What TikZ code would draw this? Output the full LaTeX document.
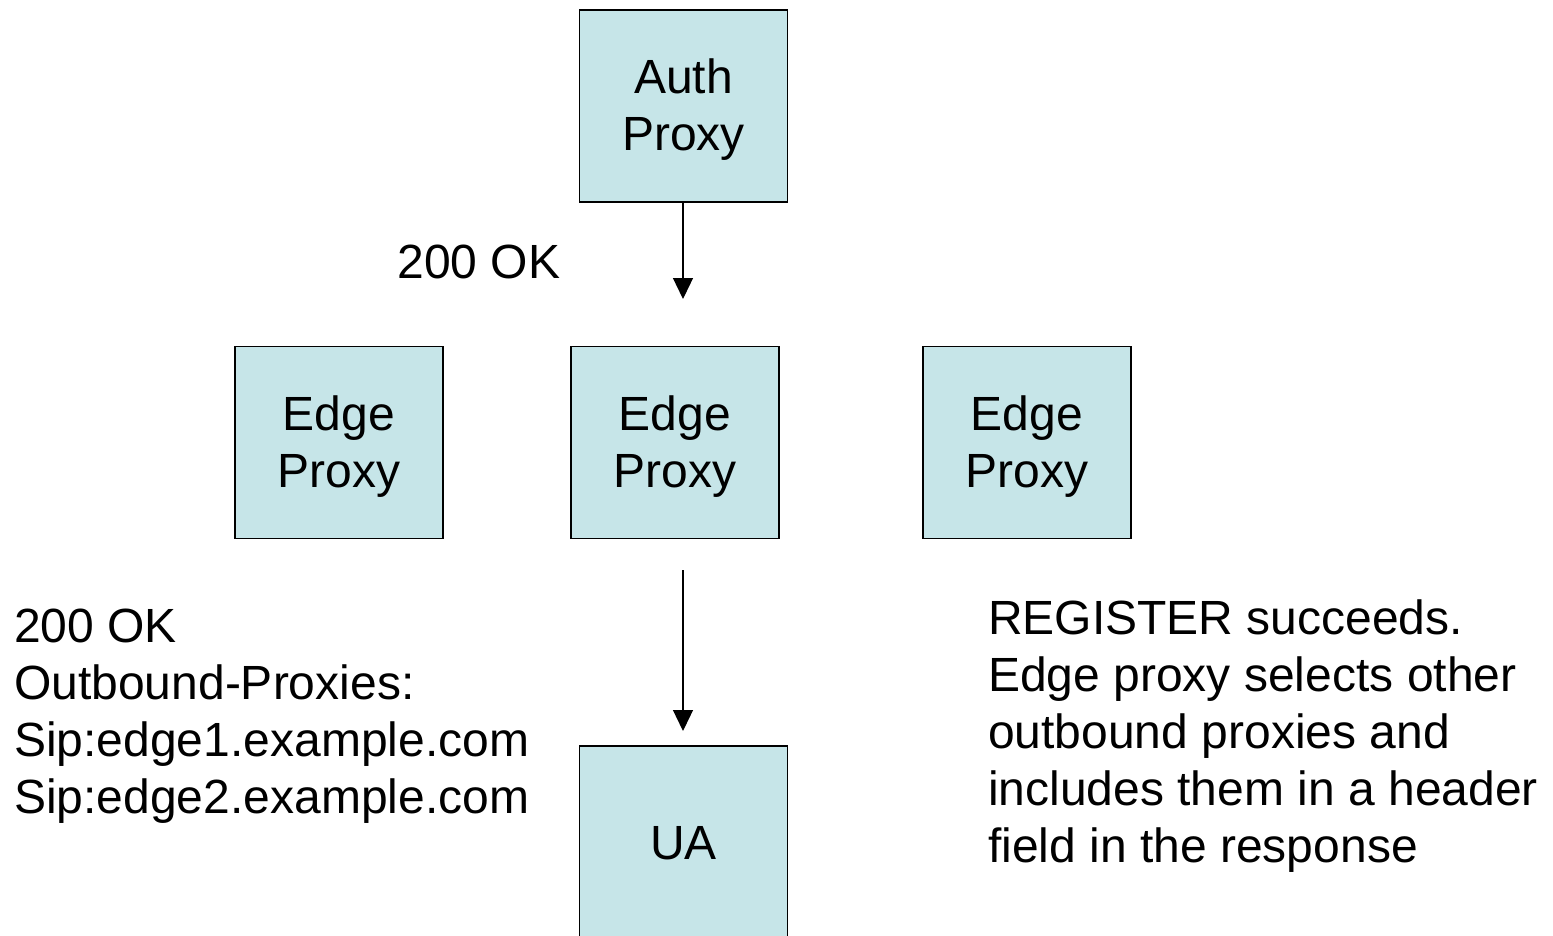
\documentclass[tikz,border=0pt]{standalone}
\usepackage{fontspec}
\setmainfont{Liberation Sans}
\usetikzlibrary{arrows.meta}
\definecolor{boxfill}{RGB}{198,229,232}
\tikzset{
  box/.style={draw=black, line width=1.3pt, fill=boxfill, minimum width=208pt, minimum height=192pt, inner sep=0pt},
  boxtext/.style={inner sep=0pt, align=center, yshift=-4pt, font=\fontsize{48}{57}\selectfont},
  lbl/.style={inner sep=0pt, align=left, font=\fontsize{48}{57}\selectfont},
  conn/.style={line width=1.3pt, -{Triangle[width=20pt,length=21pt]}}
}
\begin{document}
\begin{tikzpicture}[x=1pt,y=-1pt]
\useasboundingbox (0,0) rectangle (1553,936);
\node[box, label={[boxtext]center:Auth\\Proxy}] (auth) at (683.5,106) {};
\node[box, label={[boxtext]center:Edge\\Proxy}] (edge1) at (339,442.5) {};
\node[box, label={[boxtext]center:Edge\\Proxy}] (edge2) at (675,442.5) {};
\node[box, label={[boxtext]center:Edge\\Proxy}] (edge3) at (1027,442.5) {};
\node[box, label={[boxtext, yshift=3pt]center:UA}] (ua) at (683.5,842) {};
\coordinate (t1) at (683,299);
\coordinate (s2) at (683,570);
\coordinate (t2) at (683,731);
\draw[conn] (auth.south -| t1) -- (t1);
\draw[conn] (s2) -- (t2);
\node[lbl, anchor=center] (ok1) at (479,262) {200 OK};
\node[lbl, anchor=north west] (ok2) at (14,609) {200 OK\\Outbound-Proxies:\\Sip:edge1.example.com\\Sip:edge2.example.com};
\node[lbl, anchor=north west] (reg) at (988,600) {REGISTER succeeds.\\Edge proxy selects other\\outbound proxies and\\includes them in a header\\field in the response};
\end{tikzpicture}
\end{document}
